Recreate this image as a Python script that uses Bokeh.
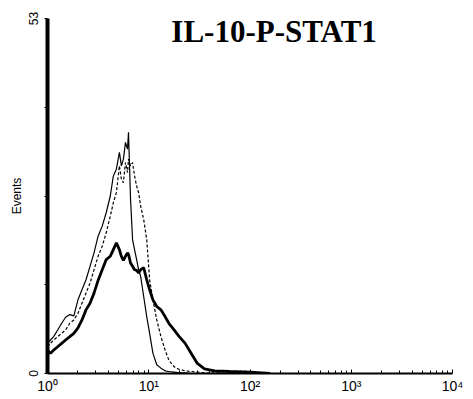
from bokeh.plotting import figure
from bokeh.models import FixedTicker, Label
from bokeh.embed import file_html
from bokeh.resources import INLINE

# Fluorescence channel values (log scale, 10^0 .. 10^4)
fluor = [1.00, 1.07, 1.15, 1.26, 1.38, 1.51, 1.66, 1.82, 2.00, 2.19, 2.40, 2.63, 2.88,
         3.16, 3.47, 3.80, 4.17, 4.47, 4.79, 5.13, 5.37, 5.62, 5.89, 6.17, 6.31, 6.61,
         6.92, 7.24, 7.59, 7.94, 8.32, 8.91, 9.55, 10.2, 11.0, 12.0, 13.2, 14.5, 15.8,
         17.8, 20.0, 22.9, 26.3, 30.2, 35.5, 44.7, 63.1, 100.0, 158.0]

# Thin solid histogram
events_thin = [4.5, 5, 5.5, 6.5, 7.5, 8.4, 8.8, 8.6, 11, 12.5, 14, 16, 18,
               20.5, 22, 24, 26.5, 29.5, 30.5, 33, 31, 32, 34.5, 33.5, 36, 26,
               20, 18.5, 17, 15.5, 14.5, 11.5, 8.5, 6, 3, 1.3, 0.8, 0.4, 0.3,
               0.2, 0.1, 0.1, 0, 0, 0, 0, 0, 0, 0]

# Dashed histogram
events_dashed = [4, 4.5, 5, 5.5, 6, 6.5, 7.5, 8, 9, 10.5, 12, 13.5, 15.5,
                 17.5, 19, 21, 23.5, 25.5, 27, 31, 29, 28.5, 31.5, 30, 32, 31,
                 31.5, 29.5, 28, 27, 25, 23, 20, 14, 11, 8, 5.5, 3.5, 2,
                 1, 0.6, 0.4, 0.3, 0.2, 0.1, 0.1, 0, 0, 0]

# Thick solid histogram
events_thick = [3.5, 3, 3.5, 4, 4.5, 5, 5.5, 6, 6.8, 8, 9.5, 10.5, 12,
                13.9, 15.5, 17, 17.5, 18.5, 19.5, 18.5, 17.5, 16.9, 17.5, 18, 17.8, 16.5,
                16, 15.5, 15.4, 15, 15.5, 15.8, 14, 12.5, 11, 10, 9.5, 8.5, 7.5,
                6.5, 5.5, 4.5, 3, 1.5, 0.7, 0.4, 0.3, 0.2, 0]

y_ticks = [0, 13.25, 26.5, 39.75, 53]
y_tick_labels = {0: "0", 13.25: "", 26.5: "", 39.75: "", 53: "53"}
x_ticks = [1, 10, 100, 1000, 10000]
x_tick_labels = {1: "10⁰", 10: "10¹", 100: "10²", 1000: "10³", 10000: "10⁴"}
title_text = "IL-10-P-STAT1"

p = figure(width=473, height=399, x_axis_type="log",
           x_range=(1, 10000), y_range=(0, 53),
           output_backend="svg", toolbar_location=None,
           min_border_left=47, min_border_right=21, min_border_top=18, min_border_bottom=26)

p.line(fluor, events_thin, line_color="black", line_width=1.2)
p.line(fluor, events_dashed, line_color="black", line_width=1.2, line_dash="3 2")
p.line(fluor, events_thick, line_color="black", line_width=2.8)

p.xgrid.visible = False
p.ygrid.visible = False
p.outline_line_color = None
p.background_fill_color = "white"
p.border_fill_color = "white"

# x axis
xa = p.xaxis[0]
xa.ticker = FixedTicker(ticks=x_ticks,
                        minor_ticks=[v * m for v in x_ticks[:-1] for m in range(2, 10)])
xa.major_label_overrides = x_tick_labels
xa.axis_line_width = 2
xa.axis_line_color = "black"
xa.major_tick_in = 4
xa.major_tick_out = 0
xa.minor_tick_in = 3
xa.minor_tick_out = 0
xa.major_tick_line_color = "black"
xa.minor_tick_line_color = "black"
xa.major_label_standoff = 4
xa.major_label_text_font = "Liberation Sans"
xa.major_label_text_font_size = "14px"
xa.major_label_text_color = "black"

# y axis
ya = p.yaxis[0]
ya.ticker = FixedTicker(ticks=y_ticks)
ya.major_label_overrides = y_tick_labels
ya.major_label_orientation = "vertical"
ya.axis_line_width = 4
ya.axis_line_color = "black"
ya.major_tick_in = 0
ya.major_tick_out = 3
ya.minor_tick_line_color = None
ya.major_tick_line_color = "black"
ya.major_label_standoff = 7
ya.major_label_text_font = "Liberation Sans"
ya.major_label_text_font_size = "12px"
ya.major_label_text_color = "black"
ya.axis_label = "Events"
ya.axis_label_text_font = "Liberation Sans"
ya.axis_label_text_font_size = "12px"
ya.axis_label_text_font_style = "normal"
ya.axis_label_text_color = "black"
ya.axis_label_standoff = 2

title = Label(x=173, y=51.0, text=title_text, text_align="center",
              text_baseline="alphabetic", text_font="Liberation Serif",
              text_font_size="31px", text_font_style="bold", text_color="black")
p.add_layout(title)

open("out.html", "w").write(file_html(p, INLINE))
